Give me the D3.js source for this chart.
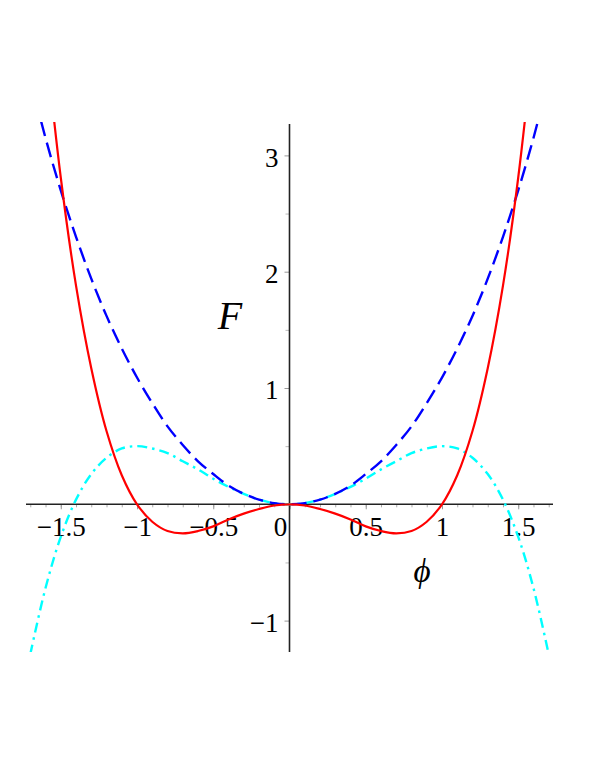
<!DOCTYPE html>
<meta charset="utf-8">

<!-- Load d3.js -->
<script src="https://d3js.org/d3.v7.min.js"></script>

<style>
body { margin: 0; background: white; }
.tick text { font-family: "Liberation Serif", "Times New Roman", serif; font-size: 27px; fill: black; }
</style>

<div id="my_dataviz"></div>

<script>
// data
var phiRed  = [-1.6, -1.5, -1.4, -1.3, -1.2, -1.1, -1.0, -0.9, -0.8, -0.7, -0.6, -0.5, -0.4, -0.3, -0.2, -0.1, 0,
               0.1, 0.2, 0.3, 0.4, 0.5, 0.6, 0.7, 0.8, 0.9, 1.0, 1.1, 1.2, 1.3, 1.4, 1.5, 1.6];
var redF    = [3.99, 2.81, 1.88, 1.17, 0.63, 0.25, 0, -0.15, -0.23, -0.25, -0.23, -0.19, -0.13, -0.08, -0.04, -0.01, 0,
               -0.01, -0.04, -0.08, -0.13, -0.19, -0.23, -0.25, -0.23, -0.15, 0, 0.25, 0.63, 1.17, 1.88, 2.81, 3.99];

var phiBlue = [-1.7, -1.6, -1.5, -1.4, -1.3, -1.2, -1.1, -1.0, -0.9, -0.8, -0.7, -0.6, -0.5, -0.4, -0.3, -0.2, -0.1, 0,
               0.1, 0.2, 0.3, 0.4, 0.5, 0.6, 0.7, 0.8, 0.9, 1.0, 1.1, 1.2, 1.3, 1.4, 1.5, 1.6, 1.7];
var blueF   = [3.66, 3.15, 2.70, 2.30, 1.94, 1.62, 1.34, 1.09, 0.87, 0.67, 0.51, 0.37, 0.26, 0.16, 0.09, 0.04, 0.01, 0,
               0.01, 0.04, 0.09, 0.16, 0.26, 0.37, 0.51, 0.67, 0.87, 1.09, 1.34, 1.62, 1.94, 2.30, 2.70, 3.15, 3.66];

var phiCyan = [-1.7, -1.6, -1.5, -1.4, -1.3, -1.2, -1.1, -1.0, -0.9, -0.8, -0.7, -0.6, -0.5, -0.4, -0.3, -0.2, -0.1, 0,
               0.1, 0.2, 0.3, 0.4, 0.5, 0.6, 0.7, 0.8, 0.9, 1.0, 1.1, 1.2, 1.3, 1.4, 1.5, 1.6, 1.7];
var cyanF   = [-1.29, -0.72, -0.28, 0.04, 0.26, 0.40, 0.48, 0.50, 0.48, 0.44, 0.37, 0.30, 0.22, 0.15, 0.09, 0.04, 0.01, 0,
               0.01, 0.04, 0.09, 0.15, 0.22, 0.30, 0.37, 0.44, 0.48, 0.50, 0.48, 0.40, 0.26, 0.04, -0.28, -0.72, -1.29];

// tick values and labels
var xTickVals   = [-1.5, -1, -0.5, 0, 0.5, 1, 1.5];
var xTickLabels = ["\u22121.5", "\u22121", "\u22120.5", "0", "0.5", "1", "1.5"];
var yTickVals   = [-1, 1, 2, 3];
var yTickLabels = ["\u22121", "1", "2", "3"];
var xMinorVals  = d3.range(-17, 18).map(function(i) { return i / 10; });
var yMinorVals  = [-0.5, 0.5, 1.5, 2.5];

var width = 598, height = 774;

var svg = d3.select("#my_dataviz")
  .append("svg")
    .attr("width", width)
    .attr("height", height);

// scales
var x = d3.scaleLinear().domain([-1.728, 1.728]).range([26, 553]);
var y = d3.scaleLinear().domain([-1.27, 3.27]).range([652, 124]);

// clip for curves
svg.append("clipPath").attr("id", "plotclip")
  .append("rect")
    .attr("x", 26).attr("y", 122)
    .attr("width", 527).attr("height", 530);

// minor ticks on x axis (below the axis)
svg.append("g")
    .attr("transform", "translate(0," + y(0) + ")")
    .call(d3.axisBottom(x).tickValues(xMinorVals).tickSize(3).tickFormat(""))
    .call(function(g) { g.select(".domain").remove(); })
    .selectAll("line").attr("stroke", "#aaa");

// minor ticks on y axis
svg.append("g")
    .attr("transform", "translate(" + x(0) + ",0)")
    .call(d3.axisLeft(y).tickValues(yMinorVals).tickSize(4).tickFormat(""))
    .call(function(g) { g.select(".domain").remove(); })
    .selectAll("line").attr("stroke", "#bbb");

// X axis with labels
var gx = svg.append("g")
    .attr("transform", "translate(0," + y(0) + ")")
    .call(d3.axisBottom(x).tickValues(xTickVals).tickSize(5)
      .tickFormat(function(d, i) { return xTickLabels[i]; }));
gx.select(".domain").remove();
gx.selectAll(".tick line").attr("stroke", "#999");
gx.selectAll(".tick text")
    .attr("y", 32).attr("dy", null)
    .attr("x", function(d) { return d === 0 ? -9.5 : 0; });

// Y axis with labels
var gy = svg.append("g")
    .attr("transform", "translate(" + x(0) + ",0)")
    .call(d3.axisLeft(y).tickValues(yTickVals).tickSize(5)
      .tickFormat(function(d, i) { return yTickLabels[i]; }));
gy.select(".domain").remove();
gy.selectAll(".tick line").attr("stroke", "#999");
gy.selectAll(".tick text").attr("x", -11).attr("dy", "0.4em");

// axis lines
svg.append("line")
    .attr("x1", 26).attr("x2", 553)
    .attr("y1", y(0)).attr("y2", y(0))
    .attr("stroke", "#222").attr("stroke-width", 1.6);
svg.append("line")
    .attr("x1", x(0)).attr("x2", x(0))
    .attr("y1", 124).attr("y2", 652)
    .attr("stroke", "#222").attr("stroke-width", 1.6);

// curves
var line = d3.line()
    .x(function(d) { return x(d[0]); })
    .y(function(d) { return y(d[1]); })
    .curve(d3.curveCatmullRom);

var series = [
  {phi: phiCyan, F: cyanF, color: "#00ffff", dash: "10,5,2.5,5", w: 2.4},
  {phi: phiBlue, F: blueF, color: "#0000ff", dash: "15,7", w: 2.4},
  {phi: phiRed,  F: redF,  color: "#ff0000", dash: null, w: 2.2}
];

var curves = svg.append("g").attr("clip-path", "url(#plotclip)");
series.forEach(function(s) {
  curves.append("path")
    .datum(s.phi.map(function(p, i) { return [p, s.F[i]]; }))
    .attr("fill", "none")
    .attr("stroke", s.color)
    .attr("stroke-width", s.w)
    .attr("stroke-dasharray", s.dash)
    .attr("d", line);
});

// axis titles
svg.append("text")
    .attr("x", 230).attr("y", 329)
    .attr("text-anchor", "middle")
    .style("font-family", "Liberation Serif, serif")
    .style("font-style", "italic")
    .style("font-size", "40px")
    .text("F");

svg.append("text")
    .attr("x", 422).attr("y", 582)
    .attr("text-anchor", "middle")
    .style("font-family", "Liberation Serif, serif")
    .style("font-style", "italic")
    .style("font-size", "33px")
    .text("\u03d5");
</script>
